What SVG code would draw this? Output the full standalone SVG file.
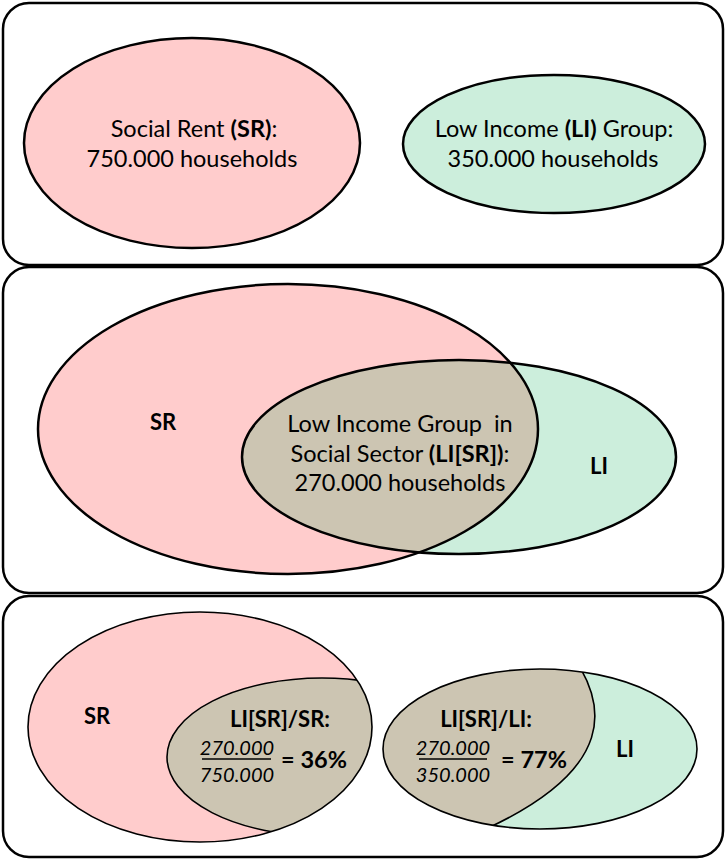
<svg xmlns="http://www.w3.org/2000/svg" width="726" height="859" viewBox="0 0 726 859">
<style>
.panel{fill:#fff;stroke:#000;stroke-width:2.5}
.sr{fill:#FFCCCC}
.li{fill:#CCEEDC}
.ov{fill:#CCC5B2}
.ln{fill:none;stroke:#000;stroke-width:2.5}
.ln2{fill:none;stroke:#000;stroke-width:1.6}
text{font-family:Lato,"Liberation Sans",sans-serif;font-size:23.5px;fill:#000;text-anchor:middle}
.b{font-weight:bold}
.s{font-size:22px}
.i{font-style:italic;font-size:20px}
</style>
<defs>
<clipPath id="c2sr"><ellipse cx="288" cy="429" rx="250" ry="145"/></clipPath>
<clipPath id="c3sr"><ellipse cx="200" cy="727" rx="172" ry="115"/></clipPath>
<clipPath id="c3li"><ellipse cx="540" cy="749" rx="157" ry="80"/></clipPath>
</defs>
<g id="panel1">
<rect class="panel" x="3" y="3" width="720" height="262" rx="26"/>
<g id="p1-sr">
<ellipse class="sr" cx="192" cy="143" rx="168" ry="105"/>
<ellipse class="ln" cx="192" cy="143" rx="168" ry="105"/>
<text x="194" y="137">Social Rent <tspan class="b">(SR)</tspan>:</text>
<text x="192" y="167">750.000 households</text>
</g>
<g id="p1-li">
<ellipse class="li" cx="554" cy="144" rx="151" ry="69"/>
<ellipse class="ln" cx="554" cy="144" rx="151" ry="69"/>
<text x="554" y="137">Low Income <tspan class="b">(LI)</tspan> Group:</text>
<text x="553" y="167">350.000 households</text>
</g>
</g>
<g id="panel2">
<rect class="panel" x="3" y="267" width="720" height="326" rx="26"/>
<g id="p2-sr">
<ellipse class="sr" cx="288" cy="429" rx="250" ry="145"/>
</g>
<g id="p2-li">
<ellipse class="li" cx="459" cy="457" rx="217" ry="97"/>
</g>
<g id="p2-ov">
<ellipse class="ov" cx="459" cy="457" rx="217" ry="97" clip-path="url(#c2sr)"/>
<ellipse class="ln" cx="288" cy="429" rx="250" ry="145"/>
<ellipse class="ln" cx="459" cy="457" rx="217" ry="97"/>
</g>
<text class="b s" x="163" y="430">SR</text>
<text class="b s" x="599" y="474">LI</text>
<text x="400" y="432" xml:space="preserve">Low Income Group  in</text>
<text x="400" y="462">Social Sector <tspan class="b">(LI[SR])</tspan>:</text>
<text x="400" y="491">270.000 households</text>
</g>
<g id="panel3">
<rect class="panel" x="3" y="596" width="720" height="261" rx="26"/>
<g id="p3-left">
<ellipse class="sr" cx="200" cy="727" rx="172" ry="115"/>
<ellipse class="ov" cx="322" cy="757" rx="155" ry="79" clip-path="url(#c3sr)"/>
<ellipse class="ln2" cx="322" cy="757" rx="155" ry="79" clip-path="url(#c3sr)"/>
<ellipse class="ln2" cx="200" cy="727" rx="172" ry="115"/>
<text class="b s" x="97" y="724">SR</text>
<text class="b s" x="280" y="727">LI[SR]/SR:</text>
<text class="i" x="237" y="755">270.000</text>
<line x1="202" y1="759" x2="271" y2="759" stroke="#000" stroke-width="1.3"/>
<text class="i" x="237" y="782">750.000</text>
<text class="b" x="314" y="768">= 36%</text>
</g>
<g id="p3-right">
<ellipse class="li" cx="540" cy="749" rx="157" ry="80"/>
<path class="ov" d="M572 655 C604 700 626 770 470 836 L370 836 L370 655 Z" clip-path="url(#c3li)"/>
<path class="ln2" d="M572 655 C604 700 626 770 470 836" clip-path="url(#c3li)"/>
<ellipse class="ln2" cx="540" cy="749" rx="157" ry="80"/>
<text class="b s" x="486" y="727">LI[SR]/LI:</text>
<text class="i" x="453" y="755">270.000</text>
<line x1="419" y1="759" x2="487" y2="759" stroke="#000" stroke-width="1.3"/>
<text class="i" x="453" y="782">350.000</text>
<text class="b" x="534" y="768">= 77%</text>
<text class="b s" x="625" y="757">LI</text>
</g>
</g>
</svg>
